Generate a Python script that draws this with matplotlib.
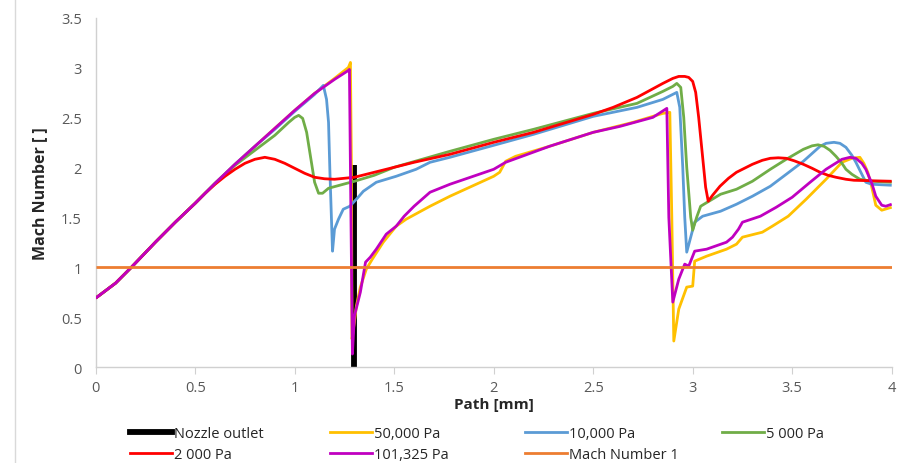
import matplotlib
matplotlib.use("Agg")
import matplotlib.pyplot as plt
from matplotlib.lines import Line2D

# ---------------- data ----------------
x_nozzle = [1.30, 1.30]
y_nozzle = [0.0, 2.02]

x_50000 = [0, 0.1, 0.18, 0.3, 0.4, 0.5, 0.6, 0.7, 0.8, 0.9, 1.0, 1.1, 1.2, 1.27, 1.28, 1.285, 1.288,
           1.30, 1.31, 1.33, 1.36, 1.39, 1.445, 1.51, 1.56, 1.68, 1.78, 2.0, 2.03, 2.06, 2.11, 2.28,
           2.5, 2.7, 2.85, 2.885, 2.895, 2.905, 2.93, 2.97, 3.0, 3.01, 3.07, 3.17, 3.22, 3.25, 3.35,
           3.40, 3.48, 3.57, 3.67, 3.75, 3.8, 3.84, 3.86, 3.88, 3.9, 3.92, 3.95, 4.0]
y_50000 = [0.69, 0.84, 1.0, 1.25, 1.45, 1.64, 1.84, 2.03, 2.21, 2.39, 2.57, 2.74, 2.89, 3.0, 3.05, 2.0, 0.28,
           0.45, 0.61, 0.80, 0.98, 1.08, 1.25, 1.41, 1.48, 1.61, 1.71, 1.91, 1.95, 2.06, 2.11, 2.21,
           2.35, 2.45, 2.54, 2.55, 1.5, 0.26, 0.58, 0.80, 0.81, 1.06, 1.11, 1.18, 1.23, 1.30, 1.35,
           1.41, 1.51, 1.68, 1.88, 2.05, 2.09, 2.10, 2.04, 1.95, 1.80, 1.62, 1.57, 1.60]

x_10000 = [0, 0.1, 0.18, 0.3, 0.4, 0.5, 0.6, 0.7, 0.8, 0.9, 1.0, 1.1, 1.144, 1.16, 1.17, 1.177, 1.19,
           1.20, 1.22, 1.244, 1.277, 1.31, 1.345, 1.41, 1.51, 1.61, 1.68, 1.78, 2.0, 2.2, 2.5, 2.72,
           2.85, 2.92, 2.935, 2.95, 2.96, 2.97, 3.01, 3.05, 3.14, 3.22, 3.30, 3.39, 3.47, 3.556, 3.64,
           3.67, 3.71, 3.74, 3.77, 3.8, 3.82, 3.85, 3.87, 3.9, 4.0]
y_10000 = [0.69, 0.84, 1.0, 1.25, 1.45, 1.64, 1.84, 2.03, 2.21, 2.38, 2.56, 2.73, 2.82, 2.68, 2.45, 1.95, 1.16,
           1.38, 1.48, 1.58, 1.61, 1.68, 1.76, 1.85, 1.91, 1.98, 2.05, 2.10, 2.22, 2.33, 2.51, 2.60,
           2.68, 2.75, 2.6, 2.0, 1.5, 1.15, 1.45, 1.51, 1.56, 1.63, 1.71, 1.81, 1.93, 2.06, 2.21,
           2.24, 2.25, 2.24, 2.20, 2.12, 2.05, 1.93, 1.85, 1.83, 1.82]

x_5000 = [0, 0.1, 0.18, 0.3, 0.4, 0.5, 0.6, 0.7, 0.8, 0.9, 0.97, 1.0, 1.02, 1.04, 1.06, 1.08, 1.1,
          1.12, 1.14, 1.17, 1.3, 1.4, 1.5, 1.78, 2.0, 2.2, 2.5, 2.72, 2.85, 2.9, 2.92, 2.94, 2.955,
          2.97, 2.99, 3.0, 3.02, 3.04, 3.14, 3.22, 3.30, 3.39, 3.47, 3.556, 3.6, 3.63, 3.66, 3.69,
          3.72, 3.75, 3.77, 3.8, 3.84, 3.9, 4.0]
y_5000 = [0.69, 0.84, 1.0, 1.25, 1.45, 1.64, 1.84, 2.02, 2.17, 2.32, 2.45, 2.50, 2.52, 2.49, 2.35, 2.10, 1.85,
          1.74, 1.74, 1.79, 1.86, 1.92, 2.0, 2.16, 2.28, 2.38, 2.54, 2.64, 2.76, 2.81, 2.84, 2.80, 2.5,
          2.0, 1.5, 1.37, 1.50, 1.61, 1.73, 1.78, 1.86, 1.98, 2.08, 2.18, 2.215, 2.225, 2.21, 2.17,
          2.11, 2.04, 1.98, 1.93, 1.88, 1.86, 1.85]

x_2000 = [0, 0.1, 0.18, 0.3, 0.4, 0.5, 0.55, 0.6, 0.65, 0.7, 0.75, 0.8, 0.85, 0.9, 0.95, 1.0, 1.05,
          1.1, 1.15, 1.2, 1.25, 1.3, 1.4, 1.5, 1.6, 1.78, 2.0, 2.2, 2.5, 2.6, 2.72, 2.85, 2.9, 2.93,
          2.96, 2.98, 3.0, 3.015, 3.03, 3.05, 3.065, 3.078, 3.1, 3.137, 3.18, 3.22, 3.26, 3.30, 3.35,
          3.39, 3.43, 3.47, 3.51, 3.556, 3.6, 3.64, 3.68, 3.72, 3.77, 3.81, 3.9, 4.0]
y_2000 = [0.69, 0.84, 1.0, 1.25, 1.45, 1.64, 1.74, 1.83, 1.91, 1.98, 2.04, 2.08, 2.10, 2.08, 2.04, 1.99, 1.94,
          1.90, 1.885, 1.88, 1.89, 1.90, 1.95, 2.0, 2.05, 2.13, 2.25, 2.35, 2.53, 2.60, 2.70, 2.84, 2.89, 2.91,
          2.91, 2.90, 2.86, 2.75, 2.5, 2.1, 1.8, 1.66, 1.72, 1.81, 1.89, 1.95, 1.99, 2.03, 2.07,
          2.09, 2.095, 2.09, 2.065, 2.03, 1.99, 1.95, 1.92, 1.90, 1.88, 1.87, 1.865, 1.86]

x_101325 = [0, 0.1, 0.18, 0.3, 0.4, 0.5, 0.6, 0.7, 0.8, 0.9, 1.0, 1.1, 1.2, 1.27, 1.275, 1.28, 1.29,
            1.30, 1.33, 1.356, 1.38, 1.41, 1.46, 1.51, 1.55, 1.6, 1.68, 1.78, 2.0, 2.06, 2.28, 2.5,
            2.635, 2.8, 2.87, 2.88, 2.90, 2.93, 2.96, 2.98, 3.01, 3.07, 3.17, 3.2, 3.23, 3.25, 3.34,
            3.42, 3.50, 3.59, 3.67, 3.75, 3.79, 3.82, 3.85, 3.87, 3.9, 3.92, 3.95, 3.97, 4.0]
y_101325 = [0.69, 0.84, 1.0, 1.25, 1.45, 1.64, 1.84, 2.03, 2.21, 2.39, 2.57, 2.74, 2.88, 2.97, 2.98, 2.0, 0.13,
            0.51, 0.75, 1.05, 1.10, 1.18, 1.33, 1.41, 1.51, 1.61, 1.75, 1.83, 1.98, 2.05, 2.21, 2.35,
            2.41, 2.50, 2.59, 1.5, 0.65, 0.88, 1.03, 1.01, 1.16, 1.18, 1.25, 1.30, 1.38, 1.45, 1.51,
            1.60, 1.70, 1.85, 1.98, 2.08, 2.10, 2.09, 2.04, 1.98, 1.84, 1.71, 1.62, 1.61, 1.63]

x_mach1 = [0, 4]
y_mach1 = [1, 1]

labels = ["Nozzle outlet", "50,000 Pa", "10,000 Pa", "5 000 Pa", "2 000 Pa", "101,325 Pa", "Mach Number 1"]
colors = ["#000000", "#FFC000", "#5B9BD5", "#70AD47", "#FF0000", "#C000C0", "#ED7D31"]

x_ticks = [0, 0.5, 1, 1.5, 2, 2.5, 3, 3.5, 4]
x_tick_labels = ["0", "0.5", "1", "1.5", "2", "2.5", "3", "3.5", "4"]
y_ticks = [0, 0.5, 1, 1.5, 2, 2.5, 3, 3.5]
y_tick_labels = ["0", "0.5", "1", "1.5", "2", "2.5", "3", "3.5"]

# ---------------- plot ----------------
plt.rcParams['font.family'] = ['Open Sans', 'DejaVu Sans']

W, H = 902, 464
fig = plt.figure(figsize=(W / 100, H / 100), dpi=100)
ax = fig.add_axes([95.7 / W, 1 - 368 / H, (891.7 - 95.7) / W, (368 - 18.5) / H])

series = [(x_nozzle, y_nozzle), (x_50000, y_50000), (x_10000, y_10000), (x_5000, y_5000),
          (x_2000, y_2000), (x_101325, y_101325), (x_mach1, y_mach1)]
handles = []
for i, ((xs, ys), lab, col) in enumerate(zip(series, labels, colors)):
    lw = 4.2 if i == 0 else 2.0
    h, = ax.plot(xs, ys, color=col, lw=lw, label=lab, solid_joinstyle='round',
                 solid_capstyle='butt', zorder=2 + i)
    handles.append(h)

ax.set_xlim(0, 4)
ax.set_ylim(0, 3.5)
ax.set_xticks(x_ticks)
ax.set_xticklabels(x_tick_labels)
ax.set_yticks(y_ticks)
ax.set_yticklabels(y_tick_labels)
for s in ["top", "right"]:
    ax.spines[s].set_visible(False)
for s in ["left", "bottom"]:
    ax.spines[s].set_color("#D0D0D0")
    ax.spines[s].set_linewidth(1.0)
ax.tick_params(axis='x', direction='out', length=5, color="#D0D0D0", labelsize=10.5,
               labelcolor="#595959", pad=4)
ax.tick_params(axis='y', length=0, labelsize=10.5, labelcolor="#595959", pad=10)
ax.set_xlabel("Path [mm]", fontsize=11, fontweight='bold', color="#262626", labelpad=2)
ax.set_ylabel("Mach Number [ ]", fontsize=11.5, fontweight='bold', color="#262626", labelpad=9)

# legend: one entry per slot, Excel-like grid
leg_font = ['Liberation Sans Narrow', 'Open Sans', 'DejaVu Sans']
slots = [(130, 435), (330, 435), (525, 435), (722, 435),
         (130, 456), (330, 456), (525, 456)]
for h, lab, (px, py) in zip(handles, labels, slots):
    proxy = Line2D([], [], color=h.get_color(), lw=h.get_linewidth())
    lg = fig.legend([proxy], [lab], loc='center left', bbox_to_anchor=(px / W, 1 - py / H),
                    frameon=False, borderpad=0, borderaxespad=0, handlelength=2.9,
                    handletextpad=0.15, prop={'family': leg_font, 'size': 10.5})
    for t in lg.get_texts():
        t.set_color("#262626")

fig.add_artist(Line2D([15 / W, 15 / W], [0, 1], color="#D9D9D9", lw=1))

fig.savefig("out.png", dpi=100)
